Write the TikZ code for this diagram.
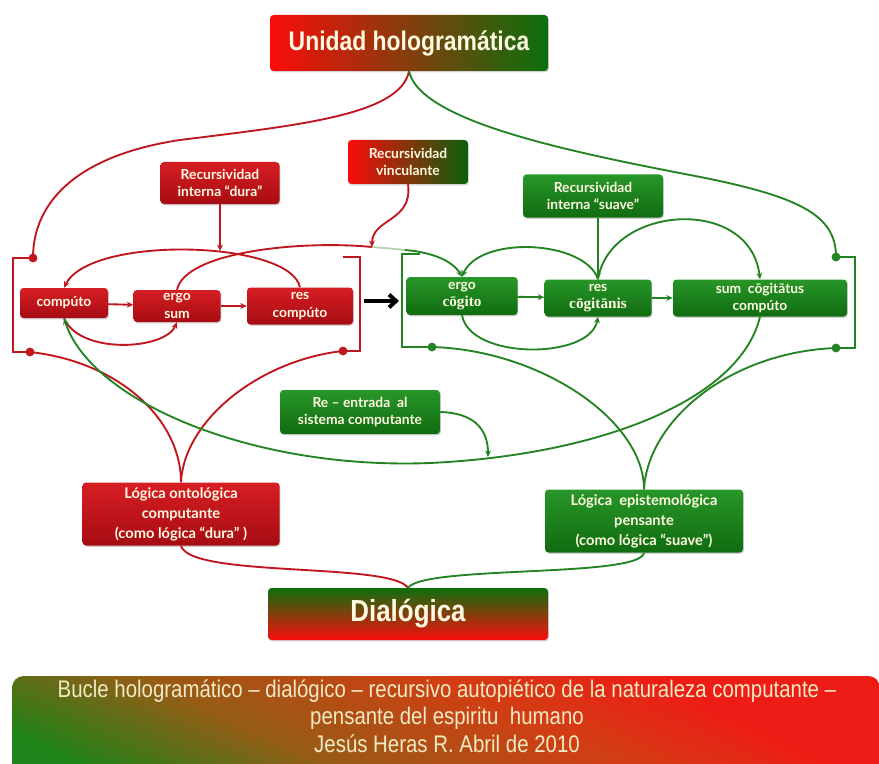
\documentclass[tikz,border=0pt]{standalone}
\usepackage{fontspec}
\setmainfont{Lato}
\newfontfamily\narrowfont[FakeStretch=0.85]{Liberation Sans}
\newfontfamily\cogfont{Liberation Serif}
\usetikzlibrary{arrows.meta,shadows}

\definecolor{boxred}{RGB}{214,30,36}
\definecolor{boxreddk}{RGB}{166,12,18}
\definecolor{boxgreen}{RGB}{40,150,40}
\definecolor{boxgreendk}{RGB}{16,108,16}
\definecolor{linered}{RGB}{192,22,30}
\definecolor{linegreen}{RGB}{36,132,36}
\definecolor{pureRed}{RGB}{250,12,12}
\definecolor{pureGreen}{RGB}{12,112,12}
\definecolor{cream}{RGB}{255,250,226}
\definecolor{bannertext}{RGB}{240,234,196}
\definecolor{bgreen}{RGB}{28,132,24}
\definecolor{bbrown}{RGB}{150,92,22}
\definecolor{borange}{RGB}{210,62,20}
\definecolor{bred}{RGB}{238,28,22}
\pgfdeclarehorizontalshading{bannershade}{100bp}{color(0bp)=(bgreen); color(39bp)=(bgreen);
  color(45bp)=(bbrown); color(52bp)=(borange); color(57bp)=(bred); color(100bp)=(bred)}

\begin{document}
\begin{tikzpicture}[x=0.03cm, y=-0.03cm, >={Stealth[length=5.5pt,width=5pt]},
    every node/.style = {shape=rectangle, align=center, inner sep=0pt, text=cream,
      font=\bfseries\fontsize{11.8}{15}\selectfont},
    box/.style = {rounded corners=3pt,
      drop shadow={shadow xshift=0.8pt, shadow yshift=-1.2pt, opacity=0.35}},
    redbox/.style = {box, top color=boxred, bottom color=boxreddk},
    greenbox/.style = {box, top color=boxgreen, bottom color=boxgreendk},
    boxsize/.style 2 args = {minimum width=#1*0.03cm, minimum height=#2*0.03cm},
    logicfont/.style = {font=\bfseries\fontsize{12.5}{17}\selectfont},
    bigtitle/.style = {font=\narrowfont\bfseries\fontsize{#1}{#1}\selectfont},
    redline/.style = {draw=linered, line width=1.6pt},
    greenline/.style = {draw=linegreen, line width=1.6pt}]
  \useasboundingbox (0,0) rectangle (879,763);

  % banner
  \begin{scope}
    \clip[rounded corners=10pt] (12,676) rectangle (880,790);
    \shade[shading=bannershade, shading angle=65] (-4,270) rectangle (896,1170);
  \end{scope}
  \node[font=\narrowfont\fontsize{20.5}{23.5}\selectfont, text=bannertext] (credit) at (447,716)
    {Bucle hologramático – dialógico – recursivo autopiético de la naturaleza computante –\\
     pensante del espiritu\ \ humano\\Jesús Heras R. Abril de 2010};

  \node[box, left color=pureRed, right color=pureGreen, boxsize={278}{56}, bigtitle=23]
    (unidad) at (409,43) {Unidad hologramática};
  \node[box, top color=pureGreen, bottom color=pureRed, boxsize={280}{52}, bigtitle=26]
    (dial) at (408,614) {Dialógica};

  \node[redbox, boxsize={119}{42}] (rdura) at (220,183) {Recursividad\\interna “dura”};
  \node[box, left color=pureRed, right color=pureGreen!85!black, boxsize={120}{44}]
    (rvinc) at (408,162) {Recursividad\\vinculante};
  \node[greenbox, boxsize={140}{43}] (rsuave) at (593,196) {Recursividad\\interna “suave”};

  \node[redbox, boxsize={88}{30}] (comp) at (64,303) {compúto};
  \node[redbox, boxsize={87}{32}] (esum) at (177,306) {ergo\\sum};
  \node[redbox, boxsize={106}{37}] (rcomp) at (300,306) {res\\compúto};
  \node[greenbox, boxsize={111}{38}] (ecog) at (462,296)
    {ergo\\{\cogfont\fontsize{13}{14}\selectfont cōgito}};
  \node[greenbox, boxsize={107}{37}] (rcog) at (598,298)
    {res\\{\cogfont\fontsize{13}{14}\selectfont cōgitānis}};
  \node[greenbox, boxsize={174}{37}] (scog) at (760,298) {sum\ \ cōgitātus\\compúto};

  \node[greenbox, boxsize={160}{44}] (reent) at (360,412) {Re – entrada\ \ al\\sistema computante};
  \node[redbox, boxsize={197}{63}, logicfont] (lont) at (181,514)
    {Lógica ontológica\\computante\\(como lógica “dura” )};
  \node[greenbox, boxsize={198}{63}, logicfont] (lepi) at (644,521)
    {Lógica\ \ epistemológica\\pensante\\(como lógica “suave”)};

  \coordinate (rTL) at (33,258);
  \coordinate (rBL) at (30,352);
  \coordinate (rTR) at (343,257);
  \coordinate (rBR) at (343,351);
  \coordinate (gTL) at (420,254);
  \coordinate (gBL) at (432,347);
  \coordinate (gTR) at (836,257);
  \coordinate (gBR) at (836,348);
  \coordinate (dura in) at (220,251);
  \coordinate (vjoin) at (372,247);
  \coordinate (vfade) at (405,250);
  \coordinate (reentry) at (430,463);
  \coordinate (reentry in) at (488,457);
  \coordinate (passA) at (364,301);
  \coordinate (passB) at (399,301);

  % brackets
  \draw[redline] (rTL) -- ++(-20,0) |- (rBL);
  \draw[redline] (rTR) -- ++(17,0) |- (rBR);
  \draw[greenline] (gTL) -- ++(-18,0) |- (gBL);
  \draw[greenline] (gTR) -- ++(19,0) |- (gBR);
  \fill[linered] (rTL) circle (3.8pt) (rBL) circle (3.8pt) (rBR) circle (3.8pt);
  \fill[linegreen] (gBL) circle (3.8pt) (gTR) circle (3.8pt) (gBR) circle (3.8pt);

  \draw[redline] (unidad.south) .. controls (400,115) and (300,125) .. (180,140)
    .. controls (80,155) and (33,200) .. (rTL);
  \draw[greenline] (unidad.south) .. controls (420,120) and (560,150) .. (690,175)
    .. controls (800,196) and (836,215) .. (gTR);

  % red loop
  \draw[redline,->] (rdura) -- (dura in);
  \draw[redline,->] (rcomp.north) .. controls (290,240) and (90,235) .. (comp.north);
  \draw[redline,->] (comp.south) .. controls (80,355) and (165,350) .. (esum.south);
  \draw[redline,->] (comp) -- (esum);
  \draw[redline,->] (esum) -- (rcomp);
  \draw[redline] (esum.north) .. controls (185,252) and (300,240) .. (vjoin);
  \draw[redline,->] (rvinc.south) .. controls (413,222) and (372,218) .. (vjoin);
  \draw[draw=linegreen!35, line width=1.6pt] (vjoin) .. controls (385,248) and (395,249) .. (vfade);
  \draw[greenline,->] (vfade) .. controls (430,252) and (452,260) .. (ecog.north);

  \draw[line width=3.4pt, -{Straight Barb[length=6pt,width=11pt]}] (passA) -- (passB);

  % green loop
  \draw[greenline,->] (rsuave.south -| rcog.north) -- (rcog.north);
  \draw[greenline,->] (rcog.north) .. controls (585,240) and (480,235) .. (ecog.north);
  \draw[greenline,->] (rcog.north) .. controls (610,205) and (750,195) .. (scog.north);
  \draw[greenline,->] (ecog.south) .. controls (470,360) and (590,360) .. (rcog.south);
  \draw[greenline,->] (ecog) -- (rcog);
  \draw[greenline,->] (rcog) -- (scog);

  % lower part
  \draw[redline] (lont.north) .. controls (181,420) and (120,362) .. (rBL);
  \draw[redline] (lont.north) .. controls (184,420) and (260,360) .. (rBR);
  \draw[greenline] (lepi.north) .. controls (644,420) and (540,350) .. (gBL);
  \draw[greenline] (lepi.north) .. controls (648,420) and (730,352) .. (gBR);
  \draw[greenline,->] (scog.south) .. controls (740,400) and (600,455) .. (reentry)
    .. controls (250,470) and (90,400) .. (comp.south);
  \draw[greenline,->] (reent.east) .. controls (475,413) and (488,430) .. (reentry in);
  \draw[redline] (lont.south) .. controls (190,578) and (390,562) .. (dial.north);
  \draw[greenline] (lepi.south) .. controls (640,578) and (425,565) .. (dial.north);
\end{tikzpicture}
\end{document}
